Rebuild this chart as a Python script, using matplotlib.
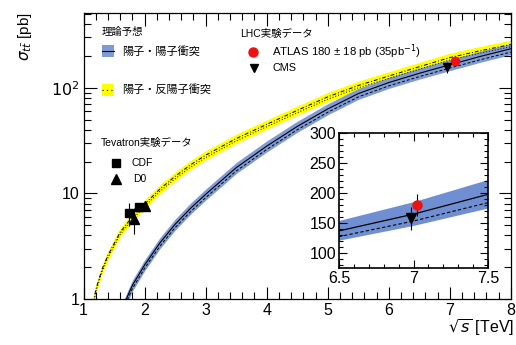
import matplotlib
matplotlib.use("Agg")
import matplotlib.pyplot as plt
from matplotlib.patches import Rectangle
from matplotlib.ticker import FixedLocator, FixedFormatter, MultipleLocator, LogLocator, NullFormatter

plt.rcParams['font.family'] = ['Liberation Sans', 'Noto Sans CJK JP', 'DejaVu Sans']

# theory predictions, sqrt(s) in TeV, sigma in pb
pp_rs = [1.6, 1.7, 1.8, 2.0, 2.25, 2.5, 2.75, 3.0, 3.5, 4.0, 4.5, 5.0, 5.5, 6.0, 6.5, 7.0, 7.5, 8.0]
pp_sig = [0.71, 1.0, 1.35, 2.1, 3.4, 5.1, 7.2, 9.8, 17.5, 28, 43, 63, 88, 112, 137, 165, 198, 234]
pp_err = 0.12      # relative band half-width
pp_dash = 0.93     # dashed curve relative to central value

ppbar_rs = [1.1, 1.2, 1.3, 1.4, 1.6, 1.8, 2.0, 2.25, 2.5, 2.75, 3.0, 3.5, 4.0, 4.5, 5.0, 5.5, 6.0, 6.5, 7.0, 7.5, 8.0]
ppbar_sig = [0.63, 1.23, 1.9, 2.6, 4.3, 6.0, 7.9, 11, 14.5, 18.6, 23, 33, 45, 61, 82, 105, 129, 158, 193, 224, 257]
ppbar_err = 0.10

# Tevatron measurements
cdf_rs = [1.8, 1.96]
cdf_sig = [6.5, 7.5]
cdf_err = [1.6, 0.5]
d0_rs = [1.8, 1.96]
d0_sig = [5.7, 7.6]
d0_err = [1.6, 0.7]

# LHC measurements
atlas_rs, atlas_sig, atlas_err = 7.0, 180, 18
cms_rs, cms_sig, cms_err = 7.0, 158, 19

blue = '#7f9bd6'
yellow = '#ffff00'

fig = plt.figure(figsize=(5.16, 3.45), dpi=100)
ax = fig.add_axes([0.162, 0.1333, 0.828, 0.829])

pp_up = [v * (1 + pp_err) for v in pp_sig]
pp_lo = [v * (1 - pp_err) for v in pp_sig]
pp_d = [v * pp_dash for v in pp_sig]
pb_up = [v * (1 + ppbar_err) for v in ppbar_sig]
pb_lo = [v * (1 - ppbar_err) for v in ppbar_sig]
pb_d = [v * 0.95 for v in ppbar_sig]

ax.fill_between(ppbar_rs, pb_lo, pb_up, color=yellow, lw=0)
ax.plot(ppbar_rs, ppbar_sig, color='k', lw=0.7, ls=(0, (4, 2, 1, 2)))
ax.plot(ppbar_rs, pb_d, color='k', lw=0.7, ls=(0, (1, 2)))
ax.fill_between(pp_rs, pp_lo, pp_up, color=blue, lw=0)
ax.plot(pp_rs, pp_sig, color='k', lw=0.8)
ax.plot(pp_rs, pp_d, color='k', lw=0.7, ls=(0, (3, 2)))

# data points (slightly shifted horizontally, as in the original)
ax.errorbar([x - 0.05 for x in cdf_rs], cdf_sig, yerr=cdf_err, fmt='s', color='k',
            ms=5.5, elinewidth=0.8, capsize=0)
ax.errorbar([d0_rs[0] + 0.03, d0_rs[1] + 0.04], d0_sig, yerr=d0_err, fmt='^', color='k',
            ms=6.5, elinewidth=0.8, capsize=0)
ax.errorbar(atlas_rs + 0.08, atlas_sig, yerr=atlas_err, fmt='o', color='#ee1111',
            ecolor='k', ms=6, elinewidth=0.8, capsize=0, zorder=5)
ax.errorbar(cms_rs - 0.05, cms_sig, yerr=cms_err, fmt='v', color='k',
            ms=6, elinewidth=0.8, capsize=0, zorder=5)

ax.set_xlim(1, 8)
ax.set_yscale('log')
ax.set_ylim(1, 510)
ax.xaxis.set_major_locator(MultipleLocator(1))
ax.xaxis.set_minor_locator(MultipleLocator(0.2))
ax.yaxis.set_major_locator(FixedLocator([1, 10, 100]))
ax.yaxis.set_major_formatter(FixedFormatter(['1', '10', '$10^2$']))
ax.yaxis.set_minor_locator(LogLocator(base=10, subs=range(2, 10)))
ax.yaxis.set_minor_formatter(NullFormatter())
ax.tick_params(which='both', direction='in', top=True, right=True, labelsize=11.5, width=0.8)
ax.tick_params(which='major', length=9, pad=3)
ax.tick_params(which='minor', length=5)
for s in ax.spines.values():
    s.set_linewidth(0.9)

fig.text(0.048, 0.965, r'$\sigma_{t\bar{t}}$ [pb]', rotation=90, va='top', ha='center', fontsize=11)
fig.text(0.997, 0.052, r'$\sqrt{s}$ [TeV]', ha='right', va='center', fontsize=11.5)

# legend drawn by hand
tr = ax.transAxes
ax.text(0.043, 0.934, '理論予想', transform=tr, fontsize=7.5, va='center')
ax.add_patch(Rectangle((0.043, 0.846), 0.028, 0.042, transform=tr, color=blue, lw=0))
ax.plot([0.043, 0.071], [0.867, 0.867], transform=tr, color='k', lw=0.8)
ax.text(0.090, 0.867, '陽子・陽子衝突', transform=tr, fontsize=8, va='center')
ax.add_patch(Rectangle((0.043, 0.710), 0.028, 0.042, transform=tr, color=yellow, lw=0))
ax.plot([0.043, 0.071], [0.731, 0.731], transform=tr, color='k', lw=0.8, ls=(0, (1, 3)))
ax.text(0.090, 0.731, '陽子・反陽子衝突', transform=tr, fontsize=8, va='center')

ax.text(0.041, 0.545, 'Tevatron実験データ', transform=tr, fontsize=7.5, va='center')
ax.plot(0.076, 0.476, 's', color='k', ms=5.5, transform=tr)
ax.text(0.111, 0.476, 'CDF', transform=tr, fontsize=7.5, va='center')
ax.plot(0.076, 0.420, '^', color='k', ms=6.5, transform=tr)
ax.text(0.116, 0.420, 'D0', transform=tr, fontsize=7.5, va='center')

ax.text(0.366, 0.927, 'LHC実験データ', transform=tr, fontsize=7.5, va='center')
ax.plot(0.396, 0.864, 'o', color='#ee1111', ms=6.5, transform=tr)
ax.text(0.441, 0.864, 'ATLAS 180 ± 18 pb (35pb$^{-1}$)', transform=tr, fontsize=8.2, va='center')
ax.plot(0.398, 0.808, 'v', color='k', ms=6, transform=tr)
ax.text(0.441, 0.808, 'CMS', transform=tr, fontsize=7.8, va='center')

# inset
axi = fig.add_axes([0.657, 0.223, 0.289, 0.391])
axi.fill_between(pp_rs, pp_lo, pp_up, color='#6f8fd2', lw=0)
axi.plot(pp_rs, pp_sig, color='k', lw=0.9)
axi.plot(pp_rs, pp_d, color='k', lw=0.8, ls=(0, (3, 2)))
axi.errorbar(atlas_rs + 0.02, atlas_sig, yerr=atlas_err, fmt='o', color='#ee1111',
             ecolor='k', ms=6.5, elinewidth=0.8, capsize=0, zorder=5)
axi.errorbar(cms_rs - 0.02, cms_sig, yerr=cms_err, fmt='v', color='k',
             ms=6.5, elinewidth=0.8, capsize=0, zorder=5)
axi.set_xlim(6.5, 7.5)
axi.set_ylim(75, 300)
axi.xaxis.set_major_locator(FixedLocator([6.5, 7, 7.5]))
axi.xaxis.set_major_formatter(FixedFormatter(['6.5', '7', '7.5']))
axi.xaxis.set_minor_locator(MultipleLocator(0.1))
axi.yaxis.set_major_locator(MultipleLocator(50))
axi.yaxis.set_minor_locator(MultipleLocator(10))
axi.tick_params(which='both', direction='in', top=True, right=True, labelsize=11.5, width=0.8)
axi.tick_params(which='major', length=6, pad=2)
axi.tick_params(which='minor', length=3)
for s in axi.spines.values():
    s.set_linewidth(1.2)

fig.savefig('out.png', dpi=100)
